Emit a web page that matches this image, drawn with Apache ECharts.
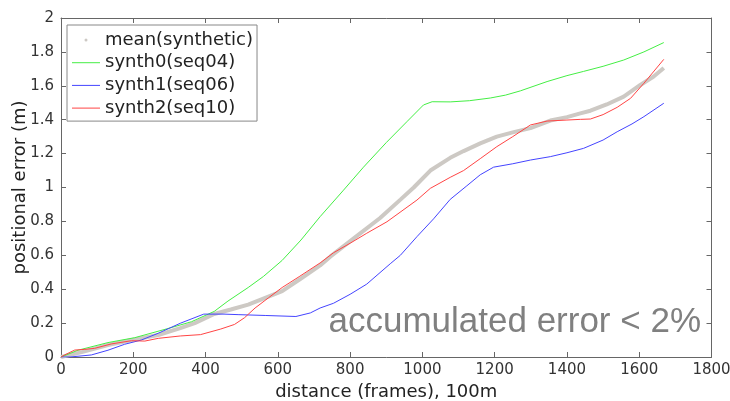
<!DOCTYPE html>
<html>
<head>
<meta charset="utf-8">
<script src="https://cdn.jsdelivr.net/npm/echarts@6/dist/echarts.min.js"></script>
<style>
  html, body { margin: 0; padding: 0; background: #fff; }
  #chart { width: 730px; height: 401px; }
</style>
</head>
<body>
<div id="chart"></div>
<script>
// Series names shown in the legend
const seriesNames = ['mean(synthetic)', 'synth0(seq04)', 'synth1(seq06)', 'synth2(seq10)'];

// Axis ticks
const xTicks = { min: 0, max: 1800, step: 200 };
const yTicks = { min: 0, max: 2, step: 0.2 };

// [distance in frames, positional error in m]
const meanSynthetic = [
  [0, 0], [60, 0.03], [130, 0.071], [196, 0.1], [269, 0.13], [330, 0.17],
  [370, 0.2], [424, 0.254], [470, 0.28], [518, 0.309], [560, 0.345], [612, 0.389],
  [662, 0.46], [717, 0.54], [745, 0.592], [810, 0.7], [883, 0.82], [940, 0.93],
  [976, 1.0], [1022, 1.1], [1077, 1.175], [1114, 1.215], [1160, 1.26], [1206, 1.3],
  [1250, 1.325], [1299, 1.35], [1354, 1.395], [1400, 1.415], [1437, 1.437],
  [1465, 1.453], [1510, 1.49], [1557, 1.536], [1603, 1.605], [1640, 1.655], [1668, 1.705]
];

const synth0 = [
  [0, 0], [47, 0.04], [130, 0.085], [204, 0.114], [296, 0.168], [361, 0.208],
  [424, 0.269], [462, 0.33], [518, 0.41], [560, 0.475], [612, 0.57], [664, 0.69],
  [717, 0.828], [780, 0.98], [837, 1.12], [900, 1.265], [957, 1.388], [1003, 1.487],
  [1027, 1.506], [1077, 1.505], [1130, 1.512], [1188, 1.528], [1230, 1.545],
  [1271, 1.57], [1345, 1.625], [1400, 1.66], [1446, 1.685], [1500, 1.715],
  [1557, 1.752], [1613, 1.8], [1668, 1.855]
];

const synth1 = [
  [0, 0], [25, 0], [84, 0.012], [130, 0.04], [176, 0.075], [222, 0.1],
  [269, 0.14], [330, 0.199], [395, 0.253], [451, 0.253], [490, 0.25], [565, 0.245],
  [650, 0.239], [690, 0.26], [717, 0.289], [754, 0.317], [800, 0.37],
  [846, 0.43], [911, 0.55], [939, 0.6], [985, 0.71], [1031, 0.815], [1077, 0.93],
  [1123, 1.01], [1160, 1.075], [1197, 1.12], [1250, 1.14], [1299, 1.162],
  [1354, 1.182], [1400, 1.205], [1446, 1.231], [1500, 1.28], [1539, 1.329],
  [1580, 1.375], [1613, 1.418], [1668, 1.497]
];

const synth2 = [
  [0, 0], [10, 0.012], [38, 0.041], [66, 0.045], [93, 0.051], [139, 0.077],
  [195, 0.096], [232, 0.094], [269, 0.11], [330, 0.124], [386, 0.132], [442, 0.165],
  [480, 0.192], [508, 0.232], [537, 0.289], [574, 0.349], [612, 0.41], [659, 0.474],
  [717, 0.555], [754, 0.615], [800, 0.671], [846, 0.73], [902, 0.798],
  [985, 0.926], [1022, 0.995], [1077, 1.06], [1114, 1.1], [1160, 1.17],
  [1206, 1.241], [1250, 1.3], [1299, 1.369], [1345, 1.392], [1400, 1.398],
  [1437, 1.402], [1465, 1.404], [1500, 1.43], [1539, 1.473], [1576, 1.526],
  [1613, 1.615], [1668, 1.756]
];

const annotation = 'accumulated error < 2%';
const xTitle = 'distance (frames), 100m';
const yTitle = 'positional error (m)';

const FONT = 'DejaVu Sans';
const AXIS_COLOR = '#666';
const LABEL_COLOR = '#333';
const lineIcon = 'path://M0,0L28,0L28,1L0,1Z';

function xAxisDef(pos, withLabels) {
  return {
    type: 'value', position: pos,
    min: xTicks.min, max: xTicks.max, interval: xTicks.step,
    name: withLabels ? xTitle : '',
    nameLocation: 'middle', nameGap: 26, nameMoveOverlap: false,
    nameTextStyle: { fontFamily: FONT, fontSize: 18, color: '#222' },
    axisLine: { show: true, onZero: false, lineStyle: { color: AXIS_COLOR, width: 1 } },
    axisTick: { show: true, inside: true, length: 5, lineStyle: { color: AXIS_COLOR } },
    axisLabel: {
      show: withLabels, fontFamily: FONT, fontSize: 15, color: LABEL_COLOR, margin: 6,
      formatter: v => String(Math.round(v))
    },
    splitLine: { show: false }
  };
}

function yAxisDef(pos, withLabels) {
  return {
    type: 'value', position: pos,
    min: yTicks.min, max: yTicks.max, interval: yTicks.step,
    name: withLabels ? yTitle : '',
    nameLocation: 'middle', nameGap: 32, nameMoveOverlap: false,
    nameTextStyle: { fontFamily: FONT, fontSize: 18, color: '#222' },
    axisLine: { show: true, onZero: false, lineStyle: { color: AXIS_COLOR, width: 1 } },
    axisTick: { show: true, inside: true, length: 5, lineStyle: { color: AXIS_COLOR } },
    axisLabel: {
      show: withLabels, fontFamily: FONT, fontSize: 15, color: LABEL_COLOR, margin: 7,
      formatter: v => String(+v.toFixed(1))
    },
    splitLine: { show: false }
  };
}

function lineSeries(name, data, color, width, z) {
  return {
    name, type: 'line', data, xAxisIndex: 0, yAxisIndex: 0,
    showSymbol: false, symbol: 'none', smooth: false, z,
    lineStyle: { color, width }, itemStyle: { color },
    animation: false
  };
}

const chart = echarts.init(document.getElementById('chart'), null, { renderer: 'canvas' });
chart.setOption({
  backgroundColor: '#fff',
  animation: false,
  grid: {
    left: 61, right: 18.5, top: 18, bottom: 44,
    containLabel: false, outerBoundsMode: 'none'
  },
  xAxis: [xAxisDef('bottom', true), xAxisDef('top', false)],
  yAxis: [yAxisDef('left', true), yAxisDef('right', false)],
  legend: {
    orient: 'vertical', left: 67, top: 25,
    padding: [5, 4, 3, 5],
    borderColor: '#888', borderWidth: 1, borderRadius: 0,
    backgroundColor: '#fff',
    itemWidth: 28, itemHeight: 3, itemGap: 2.7,
    textStyle: { fontFamily: FONT, fontSize: 18, color: '#222', lineHeight: 20 },
    selectedMode: false,
    data: [
      { name: seriesNames[0], icon: 'circle' },
      { name: seriesNames[1], icon: lineIcon },
      { name: seriesNames[2], icon: lineIcon },
      { name: seriesNames[3], icon: lineIcon }
    ]
  },
  graphic: [{
    type: 'text', right: 29, top: 305, z: 10,
    style: {
      text: annotation, fill: '#808080',
      font: '35px "Liberation Sans", Arial, sans-serif'
    }
  }],
  series: [
    lineSeries(seriesNames[0], meanSynthetic, '#cdc9c4', 4, 2),
    lineSeries(seriesNames[1], synth0, '#44ee44', 1, 3),
    lineSeries(seriesNames[2], synth1, '#4444ff', 1, 3),
    lineSeries(seriesNames[3], synth2, '#ff4444', 1, 3)
  ]
});
</script>
</body>
</html>
